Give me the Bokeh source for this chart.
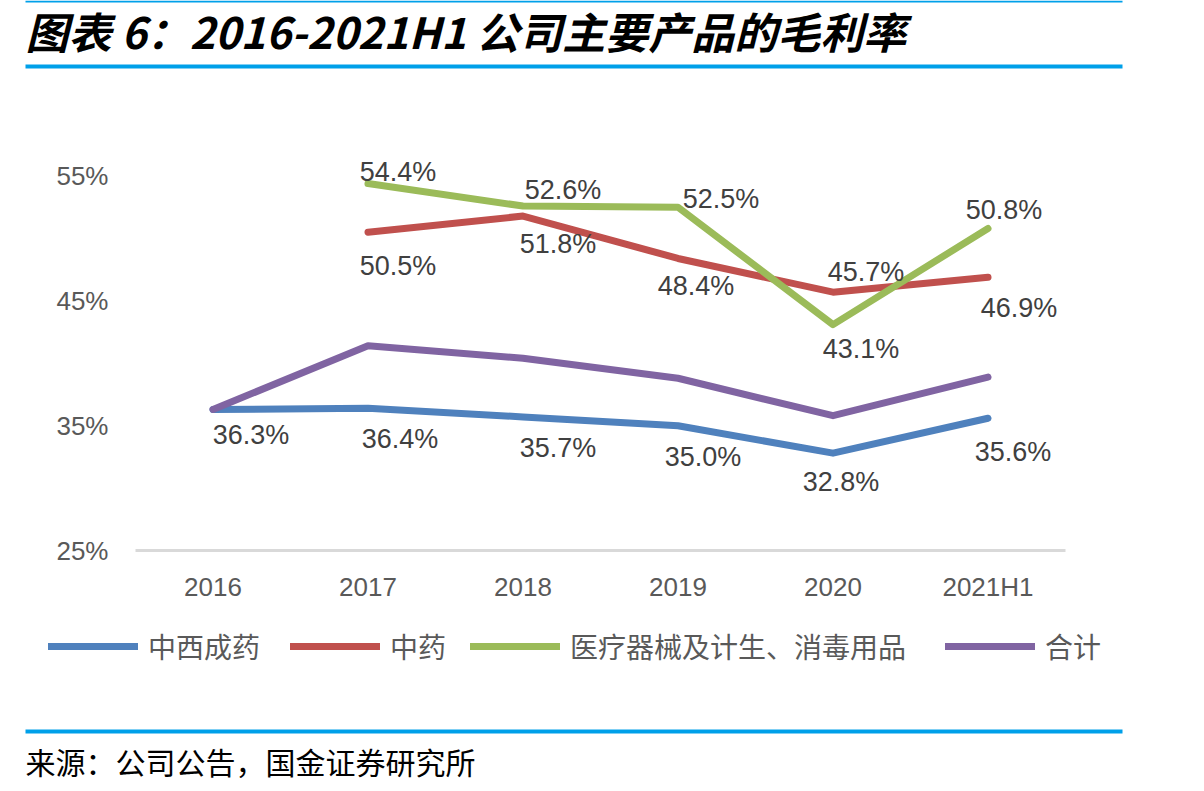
from bokeh.plotting import figure
from bokeh.models import (Range1d, FixedTicker, Legend, LegendItem, ColumnDataSource,
                          Label, BoxAnnotation, LinearAxis)
from bokeh.core.properties import value
from bokeh.embed import file_html
from bokeh.resources import INLINE

# ---------------- data ----------------
years = ["2016", "2017", "2018", "2019", "2020", "2021H1"]
s_zxcy = [36.3, 36.4, 35.7, 35.0, 32.8, 35.6]            # 中西成药
s_zy = [None, 50.5, 51.8, 48.4, 45.7, 46.9]              # 中药
s_ylqx = [None, 54.4, 52.6, 52.5, 43.1, 50.8]            # 医疗器械及计生、消毒用品
s_hj = [36.3, 41.4, 40.4, 38.8, 35.8, 38.9]              # 合计 (no labels)
series_names = ["中西成药", "中药", "医疗器械及计生、消毒用品", "合计"]
y_ticks = [25, 35, 45, 55]
title_text = "图表 6：2016-2021H1 公司主要产品的毛利率"
source_text = "来源：公司公告，国金证券研究所"

# ---------------- styles / layout ----------------
colors = ["#4F81BD", "#C0504D", "#9BBB59", "#8064A2"]
rule_color = "#00A0E9"
off_zxcy = [(38, 26), (32, 31), (35, 31), (25, 31), (8, 29), (25, 34)]
off_zy = [None, (30, 34), (35, 28), (18, 28), (33, -20), (31, 31)]
off_ylqx = [None, (30, -12), (40, -16), (43, -8), (28, 24), (16, -19)]

W, H = 1204, 791
X0, BAND = 212.5, 155.0      # page px of first category, px per category
Y25, PPU = 550.0, 12.48      # page px of 25%, px per percentage point

xi = list(range(len(years)))
x_range = Range1d((0 - X0) / BAND, (W - X0) / BAND)
y_range = Range1d(25 - (H - Y25) / PPU, 25 + Y25 / PPU)

p = figure(width=W, height=H, x_range=x_range, y_range=y_range,
           output_backend="svg", toolbar_location=None,
           x_axis_location=None, y_axis_location=None,
           min_border=0, min_border_left=0, min_border_right=0,
           min_border_top=0, min_border_bottom=0)
p.outline_line_color = None
p.grid.visible = False
p.background_fill_color = "white"
p.border_fill_color = "white"

# axes drawn at fixed locations inside the full-canvas frame
yax = LinearAxis(ticker=FixedTicker(ticks=y_ticks), fixed_location=-0.5,
                 major_label_overrides={t: f"{t}%" for t in y_ticks},
                 axis_line_color=None, major_tick_line_color=None, minor_tick_line_color=None,
                 major_label_text_font="Liberation Sans", major_label_text_font_size="26px",
                 major_label_text_color="#595959", major_label_standoff=21)
p.add_layout(yax, "left")
xax = LinearAxis(ticker=FixedTicker(ticks=xi), fixed_location=25, bounds=(-0.5, len(years) - 0.5),
                 major_label_overrides={i: y for i, y in zip(xi, years)},
                 axis_line_color="#D9D9D9", axis_line_width=3,
                 major_tick_line_color=None, minor_tick_line_color=None,
                 major_label_text_font="Liberation Sans", major_label_text_font_size="26px",
                 major_label_text_color="#595959", major_label_standoff=15)
p.add_layout(xax, "below")


def to_nan(v):
    return [float("nan") if x is None else x for x in v]


renderers = []
for vals, c in zip([s_zxcy, s_zy, s_ylqx, s_hj], colors):
    r = p.line(x=xi, y=to_nan(vals), line_color=c, line_width=7,
               line_cap="round", line_join="round")
    renderers.append(r)

for vals, offs in [(s_zxcy, off_zxcy), (s_zy, off_zy), (s_ylqx, off_ylqx)]:
    xs, ys, txt, dx, dy = [], [], [], [], []
    for i, v, o in zip(xi, vals, offs):
        if v is None:
            continue
        xs.append(i); ys.append(v); txt.append(f"{v:.1f}%")
        dx.append(o[0]); dy.append(o[1])
    src = ColumnDataSource(dict(x=xs, y=ys, t=txt, dx=dx, dy=dy))
    p.text(x="x", y="y", text="t", x_offset="dx", y_offset="dy", source=src,
           text_align="center", text_baseline="middle",
           text_font=value("Liberation Sans"), text_font_size="27px",
           text_color="#404040")

# legend: one Legend per item for exact horizontal placement
leg_x = [48, 290, 470, 945]
for name, r, lx in zip(series_names, renderers, leg_x):
    lg = Legend(items=[LegendItem(label=name, renderers=[r])],
                location=(lx, H - 666), orientation="horizontal",
                glyph_width=90, glyph_height=30, label_height=30,
                label_standoff=10, padding=0, margin=0, spacing=0,
                border_line_color=None, background_fill_alpha=0,
                label_text_font="Noto Sans CJK SC", label_text_font_size="28px",
                label_text_color="#595959")
    p.add_layout(lg, "center")

# title, source
p.add_layout(Label(x=25, y=H - 29, x_units="screen", y_units="screen", text=title_text,
                   text_font="Noto Sans CJK SC", text_font_style="bold italic",
                   text_font_size="43px", text_color="black",
                   text_baseline="middle", text_align="left"))
p.add_layout(Label(x=25, y=H - 760, x_units="screen", y_units="screen", text=source_text,
                   text_font="Noto Sans CJK SC", text_font_size="30px", text_color="black",
                   text_baseline="middle", text_align="left"))

# blue rules
for t, b in [(0, 2), (64, 68), (729, 733)]:
    p.add_layout(BoxAnnotation(left=25, right=1122, top=H - t, bottom=H - b,
                               left_units="screen", right_units="screen",
                               top_units="screen", bottom_units="screen",
                               fill_color=rule_color, fill_alpha=1, line_color=None))

open("out.html", "w").write(file_html(p, INLINE))
